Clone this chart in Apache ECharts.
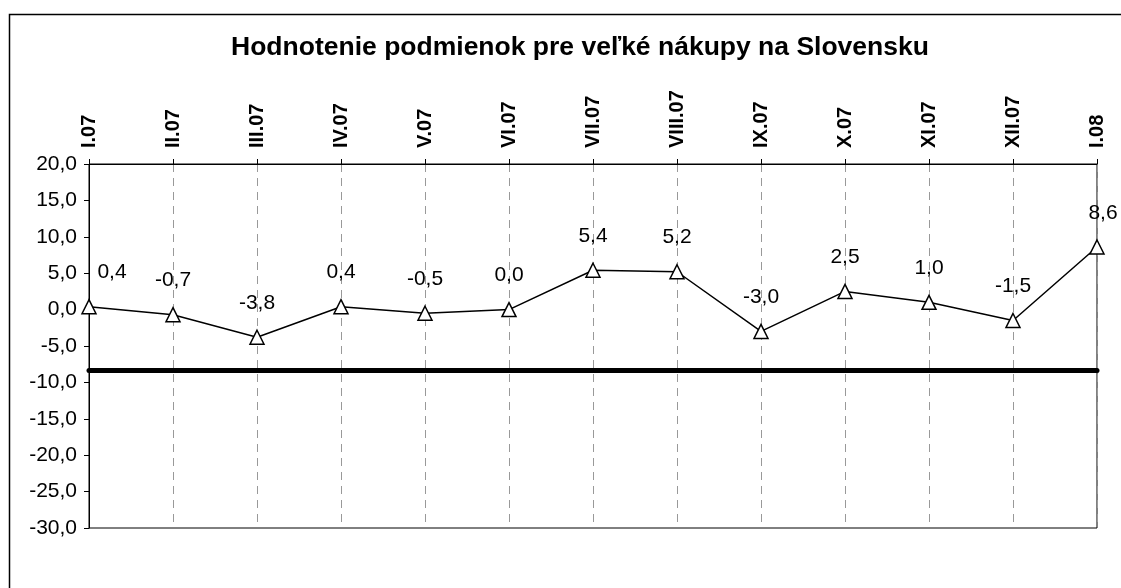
<!DOCTYPE html>
<html>
<head>
<meta charset="utf-8">
<title>Hodnotenie podmienok pre veľké nákupy na Slovensku</title>
<script src="https://cdn.jsdelivr.net/npm/echarts@6/dist/echarts.min.js"></script>
<style>
  html, body { margin: 0; padding: 0; background: #fff; }
  #chart { width: 1121px; height: 588px; }
</style>
</head>
<body>
<div id="chart"></div>
<script>
// mesiace (os x hore)
var months = ['I.07', 'II.07', 'III.07', 'IV.07', 'V.07', 'VI.07', 'VII.07',
              'VIII.07', 'IX.07', 'X.07', 'XI.07', 'XII.07', 'I.08'];
// hodnoty indikátora
var values = [0.4, -0.7, -3.8, 0.4, -0.5, 0.0, 5.4, 5.2, -3.0, 2.5, 1.0, -1.5, 8.6];
// hrubá vodorovná čiara (dlhodobý priemer)
var averageLevel = -8.3;
// rozsah osi y
var yMin = -30, yMax = 20, yStep = 5;

var FONT = 'Liberation Sans';

function fmt(v) {
    return Number(v).toFixed(1).replace('.', ',');
}

var chart = echarts.init(document.getElementById('chart'));

var seriesData = values.map(function (v, i) {
    var item = { value: v };
    // prvý popis je v origináli posunutý doprava od osi
    if (i === 0) {
        item.label = { offset: [23, 0] };
    }
    if (i === values.length - 1) {
        item.label = { offset: [6, 0] };
    }
    return item;
});

chart.setOption({
    backgroundColor: '#fff',
    animation: false,
    graphic: [{
        type: 'rect',
        left: 7,
        top: 12,
        shape: { width: 1300, height: 800 },
        style: { fill: 'none', stroke: '#000', lineWidth: 1.5 },
        silent: true
    }],
    title: {
        text: 'Hodnotenie podmienok pre veľké nákupy na Slovensku',
        left: 575,
        top: 29,
        textAlign: 'center',
        textStyle: {
            fontFamily: FONT,
            fontSize: 26.5,
            fontWeight: 'bold',
            color: '#000'
        }
    },
    grid: {
        left: 89,
        right: 24,
        top: 164,
        bottom: 60,
        show: true,
        borderColor: '#000',
        borderWidth: 1,
        backgroundColor: 'transparent'
    },
    xAxis: {
        type: 'category',
        position: 'top',
        data: months,
        boundaryGap: false,
        axisLine: { show: true, onZero: false, lineStyle: { color: '#000', width: 1 } },
        axisTick: { show: true, alignWithLabel: true, length: 5, lineStyle: { color: '#000' } },
        axisLabel: {
            rotate: -90,
            margin: 16,
            interval: 0,
            fontFamily: FONT,
            fontSize: 20,
            fontWeight: 'bold',
            color: '#000'
        },
        splitLine: {
            show: true,
            lineStyle: { color: '#999', width: 1, type: [8, 6] }
        }
    },
    yAxis: [{
        type: 'value',
        min: yMin,
        max: yMax,
        interval: yStep,
        axisLine: { show: true, lineStyle: { color: '#000', width: 1 } },
        axisTick: { show: true, length: 5, lineStyle: { color: '#000' } },
        axisLabel: {
            margin: 12,
            fontFamily: FONT,
            fontSize: 21,
            color: '#000',
            formatter: fmt
        },
        splitLine: { show: false }
    }],
    series: [{
        type: 'line',
        data: seriesData,
        symbol: 'triangle',
        symbolSize: 14,
        itemStyle: { color: '#fff', borderColor: '#000', borderWidth: 1.5 },
        lineStyle: { color: '#000', width: 1.5 },
        label: {
            show: true,
            position: 'top',
            distance: 16,
            fontFamily: FONT,
            fontSize: 21,
            color: '#000',
            formatter: function (p) { return fmt(p.value); }
        },
        markLine: {
            silent: true,
            symbol: 'none',
            label: { show: false },
            lineStyle: { color: '#000', width: 5, type: 'solid', cap: 'round' },
            data: [{ yAxis: averageLevel }]
        },
        z: 5
    }]
});
</script>
</body>
</html>
